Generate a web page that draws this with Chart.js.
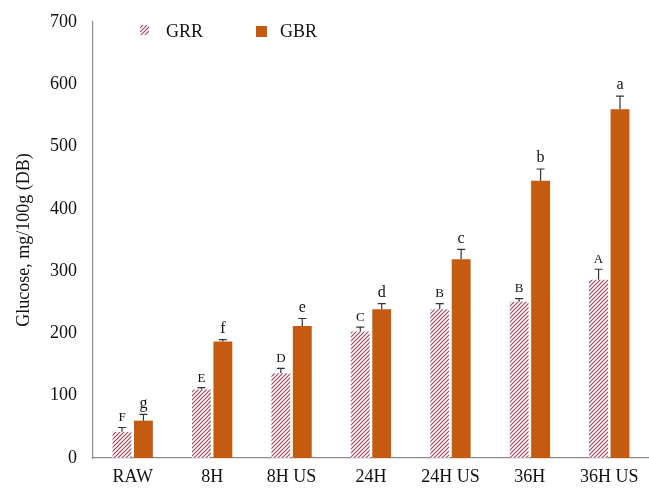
<!DOCTYPE html>
<html>
<head>
<meta charset="utf-8">
<script src="https://cdn.jsdelivr.net/npm/chart.js@4"></script>
<style>
  html, body { margin: 0; padding: 0; background: #fff; }
  #wrap { width: 649px; height: 490px; }
</style>
</head>
<body>
<div id="wrap"><canvas id="glucoseChart" width="649" height="490"></canvas></div>
<script>
var categories = ["RAW", "8H", "8H US", "24H", "24H US", "36H", "36H US"];
var grrValues = [42, 110, 136, 203, 239, 251, 286];
var grrErrors = [7, 3, 8, 7, 9, 5, 17];
var grrLetters = ["F", "E", "D", "C", "B", "B", "A"];
var gbrValues = [60, 187, 212, 239, 319, 445, 560];
var gbrErrors = [10, 3, 12, 9, 16, 19, 21];
var gbrLetters = ["g", "f", "e", "d", "c", "b", "a"];
var yTicks = [0, 100, 200, 300, 400, 500, 600, 700];

var serif = "'Liberation Serif', 'DejaVu Serif', serif";

function makeHatch() {
    var s = 4;
    var c = document.createElement('canvas');
    c.width = s; c.height = s;
    var g = c.getContext('2d');
    g.fillStyle = '#ffffff';
    g.fillRect(0, 0, s, s);
    g.strokeStyle = '#a8485e';
    g.lineWidth = 1.2;
    g.beginPath();
    g.moveTo(0, s); g.lineTo(s, 0);
    g.moveTo(-1, 1); g.lineTo(1, -1);
    g.moveTo(s - 1, s + 1); g.lineTo(s + 1, s - 1);
    g.stroke();
    return g.createPattern(c, 'repeat');
}

var hatch = makeHatch();
var orange = '#c55a11';

// error bars + significance letters
var errorPlugin = {
    id: 'errorBars',
    afterDatasetsDraw: function (chart) {
        var ctx = chart.ctx;
        var y = chart.scales.y;
        var errs = [grrErrors, gbrErrors];
        var letters = [grrLetters, gbrLetters];
        var vals = [grrValues, gbrValues];
        ctx.save();
        for (var d = 0; d < 2; d++) {
            var meta = chart.getDatasetMeta(d);
            meta.data.forEach(function (bar, i) {
                var top = y.getPixelForValue(vals[d][i] + errs[d][i]);
                var base = y.getPixelForValue(vals[d][i]);
                ctx.strokeStyle = '#333';
                ctx.lineWidth = 1.2;
                ctx.beginPath();
                ctx.moveTo(bar.x, base);
                ctx.lineTo(bar.x, top);
                ctx.moveTo(bar.x - 4, top);
                ctx.lineTo(bar.x + 4, top);
                ctx.stroke();
                ctx.fillStyle = '#111';
                ctx.font = (d === 0 ? '13px ' : '16px ') + serif;
                ctx.textAlign = 'center';
                ctx.textBaseline = 'bottom';
                ctx.fillText(letters[d][i], bar.x, top - 3);
            });
        }
        ctx.restore();
    }
};

// legend drawn inside the plot area like the original
var legendPlugin = {
    id: 'innerLegend',
    afterDraw: function (chart) {
        var ctx = chart.ctx;
        ctx.save();
        ctx.fillStyle = hatch;
        ctx.fillRect(140, 25, 9, 10);
        ctx.fillStyle = orange;
        ctx.fillRect(256, 26, 11, 11);
        ctx.fillStyle = '#111';
        ctx.font = '18px ' + serif;
        ctx.textAlign = 'left';
        ctx.textBaseline = 'middle';
        ctx.fillText('GRR', 166, 32);
        ctx.fillText('GBR', 280, 32);
        ctx.restore();
    }
};

var ctx = document.getElementById('glucoseChart').getContext('2d');
var chart = new Chart(ctx, {
    type: 'bar',
    data: {
        labels: categories,
        datasets: [{
            label: 'GRR',
            data: grrValues,
            backgroundColor: hatch,
            borderWidth: 0
        }, {
            label: 'GBR',
            data: gbrValues,
            backgroundColor: orange,
            borderWidth: 0
        }]
    },
    plugins: [errorPlugin, legendPlugin],
    options: {
        responsive: false,
        animation: false,
        datasets: {
            bar: { categoryPercentage: 0.54, barPercentage: 0.88 }
        },
        layout: { padding: { top: 22, right: 0, left: 0, bottom: 0 } },
        plugins: {
            legend: { display: false },
            tooltip: { enabled: false }
        },
        scales: {
            x: {
                grid: { display: false, drawTicks: false },
                border: { color: '#8c8c8c', width: 1.2 },
                ticks: { color: '#111', font: { family: serif, size: 18 }, padding: 8, maxRotation: 0 },
                afterFit: function (s) { s.height = 32; }
            },
            y: {
                min: 0,
                max: 700,
                afterBuildTicks: function (s) {
                    s.ticks = yTicks.map(function (v) { return { value: v }; });
                },
                grid: { display: false, drawOnChartArea: false, drawTicks: true, tickLength: 5, tickColor: '#8c8c8c' },
                border: { color: '#8c8c8c', width: 1.2 },
                ticks: { color: '#111', font: { family: serif, size: 18 }, padding: 11 },
                title: {
                    display: true,
                    text: 'Glucose, mg/100g (DB)',
                    color: '#111',
                    font: { family: serif, size: 18 },
                    padding: { top: 13, bottom: 0 }
                },
                afterFit: function (s) { s.width = 93; }
            }
        }
    }
});
</script>
</body>
</html>
